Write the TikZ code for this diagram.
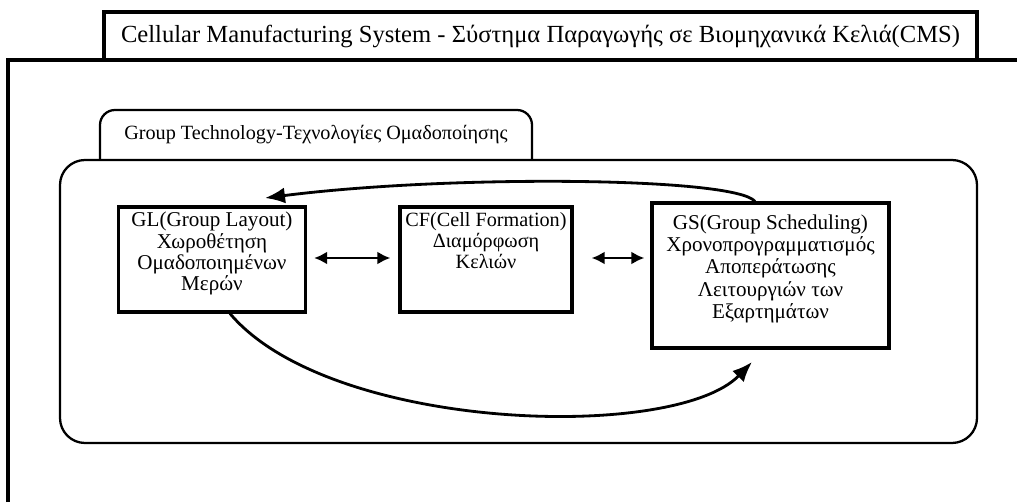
\documentclass[tikz,border=0pt]{standalone}
\usepackage{fontspec}
\setmainfont{Liberation Serif}
\usetikzlibrary{arrows.meta}

\newcommand{\textocaja}[3]{\parbox[c][#2][t]{#1}{\centering\vspace*{0.1cm}#3}}

\begin{document}
\begin{tikzpicture}[
  caja/.style={draw, line width=1.8pt, inner sep=0pt, font=\fontsize{12}{12.2}\selectfont},
  flecha/.style={line width=1.6pt, -{Latex[length=4mm,width=3.2mm]}},
  doble/.style={line width=1.6pt, {Latex[length=2.6mm,width=2.6mm]}-{Latex[length=2.6mm,width=2.6mm]}}
]
\useasboundingbox (0,0) rectangle (20.34,10.04);
%\draw[help lines](0,0) grid (20,10);

\draw[line width=2.6pt] (0.16,0) -- (0.16,8.84) -- (20.34,8.84); % marco CMS
\node[draw, line width=2.2pt, minimum width=17.46cm, minimum height=0.96cm, inner sep=0pt,
  font=\fontsize{14}{16}\selectfont] (titulo) at (10.81,9.32)
  {Cellular Manufacturing System - Σύστημα Παραγωγής σε Βιομηχανικά Κελιά(CMS)}; % titulo

\draw[line width=1.3pt, rounded corners=0.3cm] (2.0,6.84) -- (2.0,7.84) -- (10.64,7.84) -- (10.64,6.84); % pestana GT
\node[font=\fontsize{11.5}{14}\selectfont] (pestana) at (6.32,7.34) {Group Technology-Τεχνολογίες Ομαδοποίησης}; % texto GT
\draw[line width=1.3pt, rounded corners=0.5cm] (1.2,1.18) rectangle (19.54,6.84); % marco GT

\node[caja] (GL) at (4.24,4.85) {\textocaja{3.74cm}{2.1cm}{GL(Group Layout)\\ Χωροθέτηση\\ Ομαδοποιημένων\\ Μερών}}; % caja GL
\node[caja, font=\fontsize{11.5}{12.2}\selectfont] (CF) at (9.72,4.85) {\textocaja{3.44cm}{2.1cm}{CF(Cell Formation)\\ Διαμόρφωση\\ Κελιών}}; % caja CF
\node[caja, font=\fontsize{12}{12.6}\selectfont] (GS) at (15.41,4.53) {\textocaja{4.74cm}{2.9cm}{\vspace*{0.14cm}GS(Group Scheduling)\\ Χρονοπρογραμματισμός\\ Αποπεράτωσης\\ Λειτουργιών των\\ Εξαρτημάτων}}; % caja GS

\coordinate (punta1) at (5.3,6.08); % punta flecha arriba
\coordinate (punta2) at (15.04,2.8); % punta flecha abajo

\draw[doble] ([xshift=0.14cm,yshift=0.03cm]GL.east) -- ([xshift=-0.16cm,yshift=0.03cm]CF.west); % GL <-> CF
\draw[doble, shorten <=0.36cm, shorten >=0.12cm] ([yshift=0.03cm]CF.east) -- ([yshift=0.03cm]CF.east -| GS.west); % CF <-> GS

\draw[flecha] ([xshift=-0.31cm]GS.north) .. controls (14.7,6.5) and (9.0,6.55) .. (punta1); % GS -> GL
\draw[flecha] ([xshift=0.36cm]GL.south) .. controls (6.6,1.4) and (13.5,1.2) .. (punta2); % GL -> GS

\end{tikzpicture}
\end{document}
